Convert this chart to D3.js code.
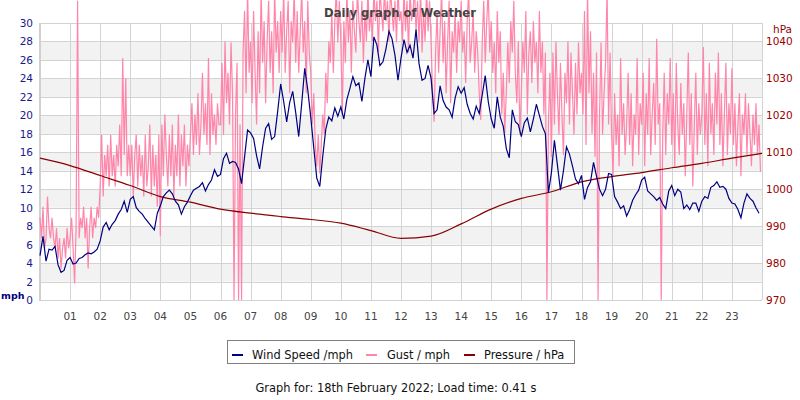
<!DOCTYPE html>
<html>
<head>
<meta charset="utf-8">
<script src="https://cdn.jsdelivr.net/npm/d3@7"></script>
<style>
  body { margin: 0; background: #fff; }
  svg { display: block; }
  text { font-family: "DejaVu Sans", sans-serif; }
</style>
</head>
<body>
<svg id="chart" width="800" height="400"></svg>
<script>
// hour labels on the x axis
let hourLabels = ["01","02","03","04","05","06","07","08","09","10","11","12",
                  "13","14","15","16","17","18","19","20","21","22","23"];
let mphTicks = [0,2,4,6,8,10,12,14,16,18,20,22,24,26,28,30];
let hpaTicks = [970,980,990,1000,1010,1020,1030,1040];

// wind speed, one reading every 6 minutes (mph)
let windSpeed = [
  4.8,6.9,4.2,5.5,5.4,5.8,3.8,3.0,3.2,4.3,
  4.6,3.9,4.0,4.5,4.6,4.9,5.1,5.0,5.2,5.5,
  6.4,7.9,8.4,7.6,8.2,8.6,9.3,9.8,10.7,9.5,
  10.9,11.2,10.0,9.6,9.3,8.8,8.4,8.0,7.6,9.4,
  10.2,11.2,11.6,11.9,11.5,10.7,10.3,9.3,10.1,10.6,
  11.3,11.9,12.1,12.3,12.7,11.8,12.5,13.0,14.1,13.4,
  13.6,15.3,15.9,14.8,15.0,14.9,14.2,12.6,15.5,18.4,
  18.1,17.5,15.6,14.2,16.6,18.6,19.1,17.4,17.7,20.4,
  23.4,21.5,19.3,21.4,22.6,20.3,17.7,21.3,25.1,22.8,
  19.8,16.5,13.2,12.3,15.6,18.5,19.8,19.4,20.8,19.9,
  20.9,19.6,21.7,22.9,24.2,23.2,23.5,21.5,24.0,26.0,
  24.2,28.5,27.6,25.4,25.8,27.2,29.1,28.3,26.5,23.8,
  26.2,28.2,26.8,27.6,26.2,29.3,25.6,23.8,24.0,25.4,
  24.0,20.2,20.6,23.2,21.6,20.9,20.6,19.8,21.9,23.1,
  22.4,23.0,21.2,20.2,19.6,21.0,20.2,22.2,24.3,21.5,
  19.6,18.6,22.0,19.8,18.8,16.4,15.4,20.6,19.3,19.0,
  17.7,19.2,19.7,18.2,19.6,21.2,20.0,18.8,18.0,11.6,
  13.8,17.3,14.6,11.9,14.0,16.6,15.8,14.5,13.1,12.6,
  13.5,10.9,12.2,12.8,14.9,13.4,12.0,11.3,12.0,13.7,
  13.6,11.2,10.6,9.9,10.2,9.1,9.8,10.8,11.4,11.9,
  13.0,13.3,11.8,11.5,11.2,10.8,11.1,10.4,9.9,11.8,
  12.4,11.3,12.0,11.7,9.9,10.3,9.8,10.5,10.5,9.6,
  10.7,11.2,11.0,12.2,12.4,12.8,12.2,12.3,12.0,11.0,
  10.5,10.4,9.8,8.9,10.5,11.5,11.0,10.7,10.0,9.4
];

// gust, one reading every 3 minutes (mph)
let gust = [
  8.9,6.7,10.1,5.6,6.7,11.2,7.8,6.7,8.9,6.7,5.6,7.8,4.5,6.7,3.4,5.6,6.7,4.5,7.8,5.6,
  6.7,8.9,5.6,1.8,7.8,32.4,6.7,8.9,7.8,10.1,6.7,8.9,3.4,7.8,10.1,6.7,8.9,7.8,10.1,8.9,
  12.3,17.9,11.2,15.7,13.4,16.8,12.3,17.9,13.4,15.7,12.3,16.8,14.5,19.0,13.4,26.2,15.7,24.0,13.4,16.8,
  13.4,16.8,11.2,15.7,17.9,12.3,16.8,13.4,15.7,11.2,17.9,12.3,14.5,19.0,11.2,16.8,12.3,15.7,10.1,17.9,
  6.9,19.0,13.4,20.1,15.7,12.3,17.9,13.4,19.0,11.2,16.8,13.4,20.1,12.3,17.9,14.5,19.0,12.3,16.8,14.5,
  17.9,21.3,15.7,20.1,16.8,22.4,15.7,19.0,24.6,17.9,21.3,16.8,26.2,15.7,22.4,17.9,20.1,16.8,21.3,19.0,
  19.0,25.7,17.9,28.0,21.3,24.6,19.0,27.9,22.4,0,20.1,25.7,0,19.0,0,26.8,31.3,22.4,33.6,24.6,
  28.0,21.3,31.3,24.6,19.0,29.1,22.4,33.6,25.7,30.2,21.3,28.0,32.4,24.6,29.1,22.4,33.6,26.8,30.2,24.6,
  31.3,26.8,33.6,24.6,29.1,32.4,22.4,30.2,27.9,33.6,25.7,31.3,24.6,29.1,33.6,26.8,30.2,22.4,32.4,26.8,
  24.6,19.0,22.4,16.8,14.5,17.9,13.7,16.8,20.1,18.0,24.6,21.3,28.0,25.7,31.3,24.6,30.2,33.6,27.9,32.4,
  28.0,20.1,30.2,25.7,33.6,27.9,31.3,24.6,32.4,29.1,26.8,33.6,30.2,27.9,32.4,25.7,31.3,28.0,33.6,29.1,
  31.3,28.0,33.6,30.2,32.4,26.8,33.6,31.3,29.1,33.6,30.2,32.4,28.0,33.6,31.3,29.1,32.4,27.9,33.6,30.2,
  31.3,28.0,33.6,29.1,32.4,26.8,33.6,30.2,31.3,33.6,29.1,32.4,27.9,33.6,26.8,31.3,28.0,33.6,29.1,32.4,
  27.9,22.4,19.3,26.8,31.3,24.6,29.1,33.6,25.7,30.2,22.4,28.0,32.4,21.3,29.1,26.8,31.3,24.6,30.2,27.9,
  32.4,26.8,29.1,23.5,30.2,33.6,25.7,28.0,31.3,24.6,29.1,26.8,22.4,19.5,27.9,32.4,25.7,30.2,33.6,26.8,
  30.2,24.6,27.9,22.4,31.3,25.7,29.1,20.1,24.6,18.1,22.4,27.9,23.5,30.2,26.8,32.4,24.6,21.3,28.0,17.9,
  22.4,28.0,24.6,31.3,20.1,26.8,29.1,23.5,30.2,25.7,27.9,22.4,31.3,24.6,28.0,20.1,26.8,0,19.0,24.6,
  15.5,26.8,19.0,28.0,22.4,17.9,25.7,20.1,15.7,24.6,21.3,28.0,19.0,26.8,22.4,17.9,25.7,20.1,27.9,22.4,
  24.6,20.1,31.3,16.8,33.6,22.4,29.1,18.0,24.6,15.5,26.8,0,20.1,27.9,17.9,22.4,25.7,33.6,19.0,26.8,
  17.9,13.4,22.4,16.8,20.1,14.5,26.2,17.9,21.3,15.7,19.0,24.6,16.8,22.4,14.5,20.1,17.9,26.2,15.7,21.3,
  19.0,24.6,14.5,22.4,17.9,26.2,15.7,20.1,23.5,16.8,28.3,19.0,21.3,0,17.9,24.6,15.7,22.4,19.0,26.2,
  16.8,22.4,14.5,25.7,19.0,15.7,23.5,17.9,21.3,13.4,20.1,26.8,16.8,22.4,12.3,19.0,24.6,15.7,21.3,17.9,
  20.1,27.4,16.8,22.4,14.5,25.7,18.0,21.3,15.7,24.6,19.0,26.8,16.8,22.4,14.5,20.1,25.7,15.7,21.3,18.0,
  25.1,16.8,21.3,14.5,19.0,22.4,13.4,20.1,17.9,22.4,15.7,21.3,18.0,14.5,20.1,16.8,21.3,15.7,19.0,13.9
];

// pressure, hourly (hPa), hours 0..24
let pressure = [1008.4,1006.4,1003.7,1001.0,998.0,996.5,994.6,993.5,992.6,991.8,990.8,988.8,
                986.7,987.3,990.6,994.6,997.5,999.3,1002.0,1003.4,1004.5,1005.8,1007.0,1008.4,1009.7];

let svg = d3.select("#chart");
let plotLeft = 40, plotRight = 762, plotTop = 23, plotBottom = 300;

let x = d3.scaleLinear().domain([0, 24]).range([plotLeft, plotRight]);
let y = d3.scaleLinear().domain([0, 30]).range([plotBottom, plotTop]);
let yP = d3.scaleLinear().domain([970, 1045]).range([plotBottom, plotTop]);

// alternating bands
let bands = svg.append("g");
for (let i = 0; i < mphTicks.length - 1; i++) {
    let lo = mphTicks[i], hi = mphTicks[i + 1];
    bands.append("rect")
        .attr("x", plotLeft)
        .attr("y", y(hi))
        .attr("width", plotRight - plotLeft)
        .attr("height", y(lo) - y(hi))
        .attr("fill", i % 2 === 1 ? "#f2f2f2" : "#ffffff");
}

// grid
let grid = svg.append("g").attr("stroke", "#d3d3d3").attr("stroke-width", 1);
mphTicks.forEach(function(t) {
    grid.append("line")
        .attr("x1", plotLeft).attr("x2", plotRight)
        .attr("y1", Math.round(y(t)) + 0.5).attr("y2", Math.round(y(t)) + 0.5);
});
hourLabels.forEach(function(h) {
    let px = Math.round(x(+h)) + 0.5;
    grid.append("line")
        .attr("x1", px).attr("x2", px)
        .attr("y1", plotTop).attr("y2", plotBottom);
});
grid.append("line")
    .attr("x1", plotRight + 0.5).attr("x2", plotRight + 0.5)
    .attr("y1", plotTop).attr("y2", plotBottom);
svg.append("line")
    .attr("x1", plotLeft).attr("x2", plotLeft)
    .attr("y1", plotTop).attr("y2", plotBottom + 1)
    .attr("stroke", "#d0d0d0").attr("stroke-width", 2);

// series
let gustLine = d3.line()
    .x(function(d, i) { return x(i * 0.05); })
    .y(function(d) { return y(d); });
let windLine = d3.line()
    .x(function(d, i) { return x(i * 0.1); })
    .y(function(d) { return y(d); });
let presLine = d3.line()
    .x(function(d, i) { return x(i); })
    .y(function(d) { return yP(d); })
    .curve(d3.curveMonotoneX);

svg.append("path").datum(gust)
    .attr("d", gustLine)
    .attr("fill", "none").attr("stroke", "#ff85aa").attr("stroke-width", 1.2);
svg.append("path").datum(pressure)
    .attr("d", presLine)
    .attr("fill", "none").attr("stroke", "#8b0000").attr("stroke-width", 1.2);
svg.append("path").datum(windSpeed)
    .attr("d", windLine)
    .attr("fill", "none").attr("stroke", "#000080").attr("stroke-width", 1.2);

// left axis labels
let ax = svg.append("g").attr("font-size", 10.5);
mphTicks.forEach(function(t) {
    ax.append("text")
        .attr("x", 33).attr("y", y(t) + 4)
        .attr("text-anchor", "end")
        .attr("fill", "#1a1a8c")
        .text(t);
});
ax.append("text")
    .attr("x", 1).attr("y", 299)
    .attr("font-weight", "bold")
    .attr("font-size", 9.5)
    .attr("fill", "#000080")
    .text("mph");

// right axis labels
hpaTicks.forEach(function(t) {
    ax.append("text")
        .attr("x", 766).attr("y", yP(t) + 4)
        .attr("fill", "#990000")
        .text(t);
});
ax.append("text")
    .attr("x", 773).attr("y", 33)
    .attr("fill", "#990000")
    .text("hPa");

// hour labels
hourLabels.forEach(function(h) {
    ax.append("text")
        .attr("x", x(+h)).attr("y", 320)
        .attr("text-anchor", "middle")
        .attr("fill", "#444")
        .text(h);
});

// title
svg.append("text")
    .attr("x", 400).attr("y", 17)
    .attr("text-anchor", "middle")
    .attr("font-family", "DejaVu Sans Mono, monospace")
    .attr("font-weight", "bold")
    .attr("font-size", 11.6)
    .attr("fill", "#444")
    .text("Daily graph of Weather");

// legend
let legendItems = [
    {name: "Wind Speed /mph", color: "#000080", tx: 252, mx: 232},
    {name: "Gust / mph", color: "#ff85aa", tx: 387, mx: 366},
    {name: "Pressure / hPa", color: "#8b0000", tx: 484, mx: 464}
];
let lg = svg.append("g");
lg.append("rect")
    .attr("x", 227.5).attr("y", 340.5)
    .attr("width", 347).attr("height", 23)
    .attr("fill", "#fff").attr("stroke", "#808080");
legendItems.forEach(function(d) {
    lg.append("line")
        .attr("x1", d.mx).attr("x2", d.mx + 11)
        .attr("y1", 355).attr("y2", 355)
        .attr("stroke", d.color).attr("stroke-width", 2);
    lg.append("text")
        .attr("x", d.tx).attr("y", 359)
        .attr("font-size", 11.4)
        .attr("fill", "#111")
        .text(d.name);
});

svg.append("text")
    .attr("x", 396).attr("y", 392)
    .attr("text-anchor", "middle")
    .attr("font-size", 11.4)
    .attr("fill", "#111")
    .text("Graph for: 18th February 2022; Load time: 0.41 s");
</script>
</body>
</html>
